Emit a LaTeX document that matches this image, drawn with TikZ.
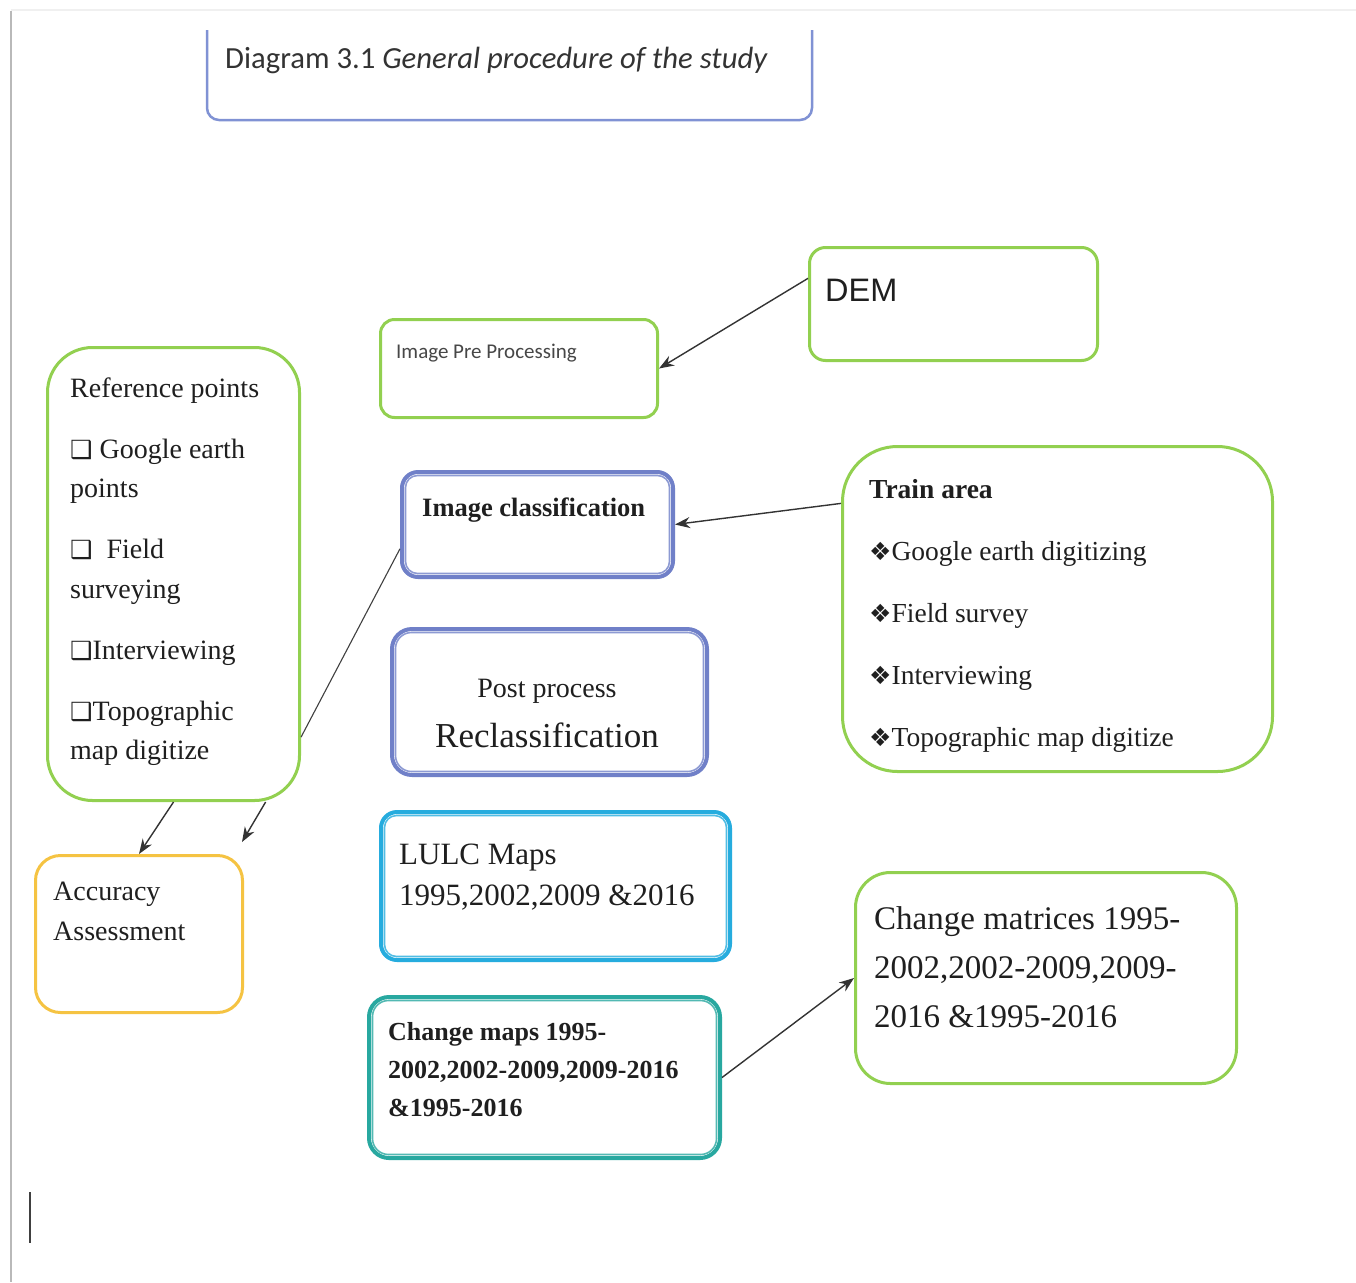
\documentclass[tikz,border=0pt]{standalone}
\usepackage{fontspec}
\setmainfont{Liberation Serif}
\newfontfamily\calibfont{Carlito}
\newfontfamily\arialfont{Liberation Sans}
\newfontfamily\symfont{DejaVu Sans}
\usetikzlibrary{arrows.meta,calc}
\definecolor{gr}{RGB}{146,208,80}
\definecolor{ttlblue}{RGB}{128,146,212}
\definecolor{icblue}{RGB}{112,128,200}
\definecolor{lucyan}{RGB}{38,172,222}
\definecolor{cmteal}{RGB}{40,168,160}
\definecolor{accor}{RGB}{245,195,66}
\newcommand{\chk}{{\symfont\fontsize{25}{25}\selectfont ❑}}
\newcommand{\dia}{{\symfont\fontsize{25}{25}\selectfont ❖}}
\newcommand{\innerline}[3]{\draw[#2!80, line width=1.6pt, rounded corners=#3]
  ($(#1.north west)+(5.5,5.5)$) rectangle ($(#1.south east)+(-5.5,-5.5)$);}
\begin{document}
\begin{tikzpicture}[x=1pt,y=-1pt,
  box/.style={rectangle, draw=#1, line width=3pt, fill=white, inner sep=0pt, anchor=north west},
  dbox/.style={rectangle, draw=#1, line width=4pt, fill=white, inner sep=0pt, anchor=north west},
  txt/.style={inner sep=0pt, align=left, text=black!88},
  arr/.style={-{Stealth[length=15pt,width=11pt]}, line width=1.4pt, draw=black!80},
  con/.style={line width=1.1pt, draw=black!75}]
\useasboundingbox (0,0) rectangle (1356,1282);
\fill[white] (0,0) rectangle (1356,1282);
% page edges and cursor
\draw[gray!12, line width=2pt] (11,10) -- (1356,10);
\draw[gray!55, line width=2pt] (11,11) -- (11,1282);
\draw[black!75, line width=1.5pt] (30,1192) -- (30,1243);
% title box (top edge cut off)
\draw[ttlblue, line width=2.5pt, rounded corners=12pt] (207,30) -- (207,120) -- (812,120) -- (812,30);
\node[txt, anchor=base west, font=\calibfont\fontsize{30.7}{36}\selectfont, text=black!80] (ttl) at (225,68) {Diagram 3.1 \textit{General procedure of the study}};
% boxes
\node[box=gr, rounded corners=16pt, minimum width=288pt, minimum height=113pt] (dem) at (808,246) {};
\node[box=gr, rounded corners=14pt, minimum width=277pt, minimum height=98pt] (ipp) at (379,318) {};
\node[box=gr, rounded corners=45pt, minimum width=252pt, minimum height=453pt] (rp) at (46,346) {};
\node[dbox=icblue, rounded corners=16pt, minimum width=271pt, minimum height=105pt] (ic) at (400,470) {};
\innerline{ic}{icblue}{12pt}
\node[box=gr, rounded corners=55pt, minimum width=430pt, minimum height=325pt] (ta) at (841,445) {};
\node[dbox=icblue, rounded corners=20pt, minimum width=315pt, minimum height=146pt] (pp) at (390,627) {};
\innerline{pp}{icblue}{16pt}
\node[dbox=lucyan, rounded corners=16pt, minimum width=349pt, minimum height=148pt] (lu) at (379,810) {};
\innerline{lu}{lucyan}{12pt}
\node[box=accor, rounded corners=25pt, minimum width=207pt, minimum height=157pt] (acc) at (34,854) {};
\node[dbox=cmteal, rounded corners=20pt, minimum width=351pt, minimum height=161pt] (cm) at (367,995) {};
\innerline{cm}{cmteal}{16pt}
\node[box=gr, rounded corners=35pt, minimum width=381pt, minimum height=211pt] (cx) at (854,871) {};
% texts
\node[txt, anchor=base west, font=\arialfont\fontsize{32.5}{38}\selectfont] (demt) at (825,301) {DEM};
\node[txt, anchor=base west, font=\calibfont\fontsize{21}{25}\selectfont, text=black!72] (ippt) at (396,358) {Image Pre Processing};
\node[txt, anchor=north west, font=\fontsize{28}{39.5}\selectfont] (rpt) at (70,369.4)
  {\strut Reference points\\[21.5pt]
   \chk\ Google earth\\ points\\[21.5pt]
   \chk\ \ Field\\ surveying\\[21.5pt]
   \chk Interviewing\\[21.5pt]
   \chk Topographic\\ map digitize};
\node[txt, anchor=base west, font=\bfseries\fontsize{26.5}{32}\selectfont] (ict) at (422,516) {Image classification};
\node[txt, anchor=north west, font=\fontsize{27.5}{62}\selectfont] (tat) at (869,454.6)
  {\strut\textbf{Train area}\\
   \dia Google earth digitizing\\
   \dia Field survey\\
   \dia Interviewing\\
   \dia Topographic map digitize};
\node[txt, anchor=base, font=\fontsize{28}{34}\selectfont] (pp1) at (547,697) {Post process};
\node[txt, anchor=base, font=\fontsize{35}{42}\selectfont] (pp2) at (547,747) {Reclassification};
\node[txt, anchor=north west, font=\fontsize{31}{41}\selectfont] (lut) at (399,835.3)
  {\strut LULC Maps\\ 1995,2002,2009 \&2016};
\node[txt, anchor=north west, font=\fontsize{28}{40}\selectfont] (acct) at (53,872)
  {\strut Accuracy\\ Assessment};
\node[txt, anchor=north west, font=\bfseries\fontsize{26}{38}\selectfont] (cmt) at (388,1013.4)
  {\strut Change maps 1995-\\ 2002,2002-2009,2009-2016\\ \&1995-2016};
\node[txt, anchor=north west, font=\fontsize{33}{49}\selectfont] (cxt) at (874,894.7)
  {\strut Change matrices 1995-\\ 2002,2002-2009,2009-\\ 2016 \&1995-2016};
% connectors
\coordinate (free) at (242,842);
\draw[arr] (dem.170) -- (ipp.east);
\draw[arr] (ta.154) -- (ic.east);
\draw[con] (rp.-52) -- (ic.190);
\draw[arr] (rp.south) -- (acc.north);
\draw[arr] (rp.-68) -- (free);
\draw[arr] (cm.east) -- (cx.west);
\end{tikzpicture}
\end{document}
